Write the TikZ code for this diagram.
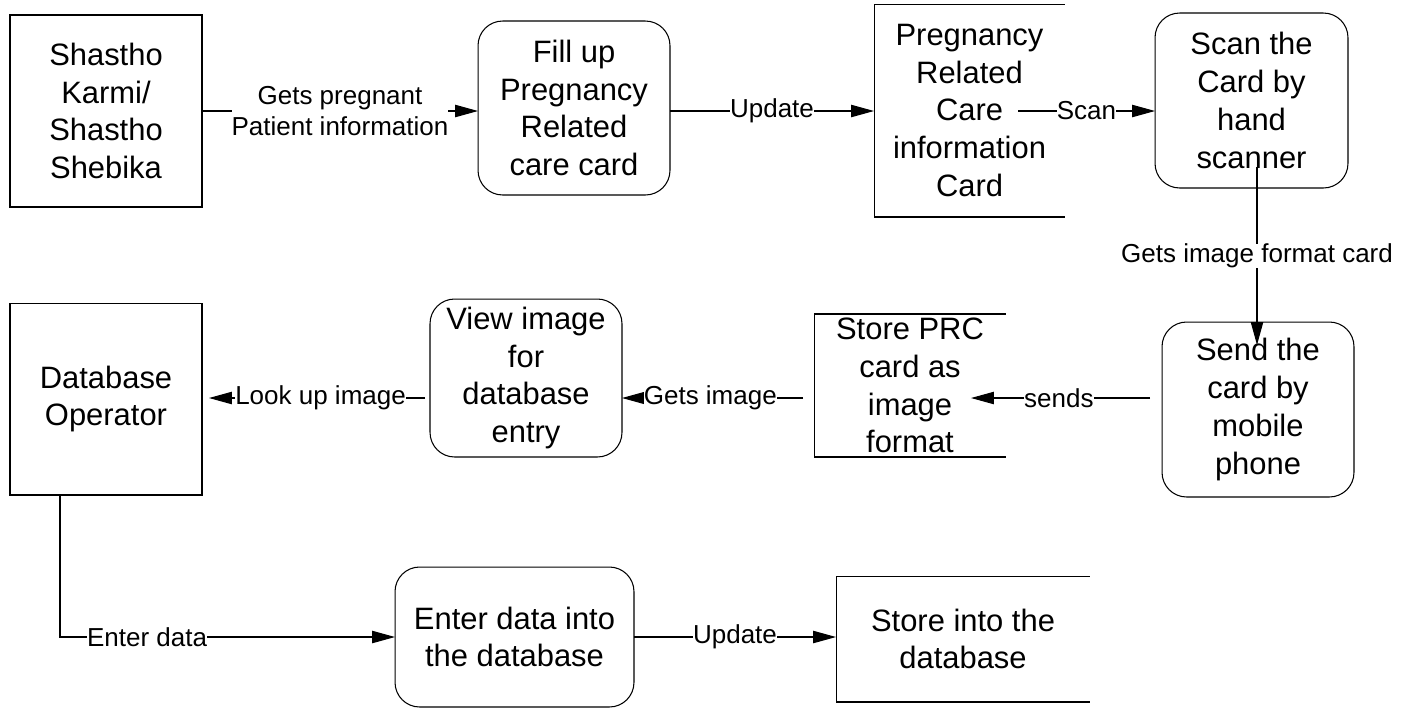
\documentclass[tikz,border=0pt]{standalone}
\usepackage{fontspec}
\setmainfont{Liberation Sans}
\usetikzlibrary{arrows.meta}
\begin{document}
\begin{tikzpicture}[x=0.02cm,y=-0.02cm,
  every node/.style={inner sep=0pt,outer sep=0pt},
  boxtext/.style={align=center,font=\fontsize{17.6}{21.5}\selectfont},
  proc/.style={boxtext,draw,line width=0.6pt,rounded corners=14pt},
  ent/.style={boxtext,draw,line width=0.6pt},
  store/.style={boxtext},
  flow/.style={-{Triangle[length=13pt,width=7pt]},line width=0.6pt},
  lbl/.style={fill=white,align=center,font=\fontsize{14.8}{18}\selectfont}]
\useasboundingbox (0,0) rectangle (1405,708);
\node[ent,minimum width=3.84cm,minimum height=3.84cm] (karmi) at (106,111) {Shastho\\Karmi/\\Shastho\\Shebika};
\node[proc,minimum width=3.84cm,minimum height=3.48cm] (fillup) at (574,108) {Fill up\\Pregnancy\\Related\\care card};
\node[store,minimum width=3.82cm,minimum height=4.26cm] (prcard) at (969.5,110.5) {Pregnancy\\Related\\Care\\information\\Card};
\node[proc,minimum width=3.86cm,minimum height=3.5cm] (scan) at (1251.5,100.5) {Scan the\\Card by\\hand\\scanner};
\node[proc,minimum width=3.84cm,minimum height=3.5cm] (send) at (1258,409.5) {Send the\\card by\\mobile\\phone};
\node[store,minimum width=3.84cm,minimum height=2.86cm] (prcimg) at (910,385.5) {Store PRC\\card as\\image\\format};
\node[proc,minimum width=3.84cm,minimum height=3.16cm] (view) at (526,378) {View image\\for\\database\\entry};
\node[ent,minimum width=3.84cm,minimum height=3.84cm] (operator) at (106,399) {Database\\Operator};
\node[proc,minimum width=4.78cm,minimum height=2.8cm] (enter) at (514.5,637) {Enter data into\\the database};
\node[store,minimum width=5.08cm,minimum height=2.52cm] (dbstore) at (963,639) {Store into the\\database};
\foreach \s in {prcard,prcimg,dbstore}
  \draw[line width=0.6pt] (\s.north east) -- (\s.north west) -- (\s.south west) -- (\s.south east);
\coordinate (scanfrom) at (1018,111);
\coordinate (scanned) at (1257,167);
\coordinate (sendtop) at (1257,345);
\coordinate (row) at (0,398);
\coordinate (sendsto) at (971,398);
\draw[flow] (karmi.east) -- node[lbl]{Gets pregnant\\Patient information} (karmi.east -| fillup.west);
\draw[flow] (fillup.east |- karmi.east) -- node[lbl]{Update} (prcard.west |- karmi.east);
\draw[flow] (scanfrom) -- node[lbl]{Scan} (scanfrom -| scan.west);
\draw[flow] (scanned) -- node[lbl]{Gets image format card} (sendtop);
\draw[flow,shorten <=0.24cm] (send.west |- row) -- node[lbl,pos=0.54]{sends} (sendsto);
\draw[flow,shorten <=0.22cm] (prcimg.west |- row) -- node[lbl,pos=0.54]{Gets image} (view.east |- row);
\draw[flow,shorten <=0.1cm,shorten >=0.14cm] (view.west |- row) -- node[lbl,pos=0.48]{Look up image} (operator.east |- row);
\draw[flow] (operator.south -| 60,0) |- node[lbl,pos=0.63]{Enter data} (enter.west);
\draw[flow] (enter.east) -- node[lbl]{Update} (enter.east -| dbstore.west);
\end{tikzpicture}
\end{document}
